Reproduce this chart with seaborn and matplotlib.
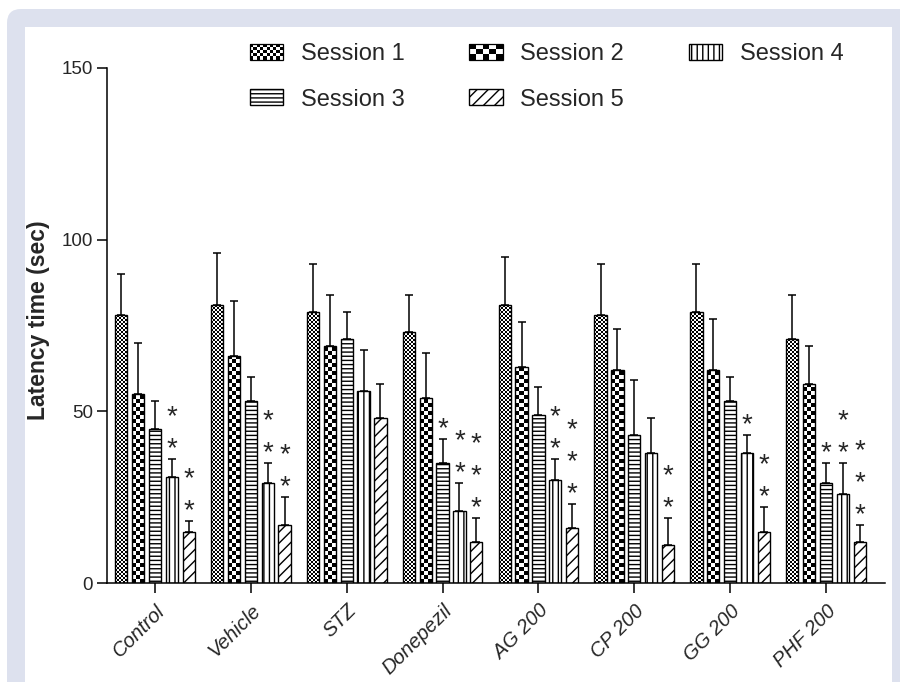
import numpy as np
import pandas as pd
import seaborn as sns
import matplotlib
matplotlib.use("Agg")
import matplotlib.pyplot as plt
from matplotlib.patches import Patch, Rectangle, FancyBboxPatch
from matplotlib.collections import PatchCollection
from matplotlib.legend_handler import HandlerBase
from matplotlib.transforms import IdentityTransform

# values
groups = ["Control", "Vehicle", "STZ", "Donepezil", "AG 200", "CP 200", "GG 200", "PHF 200"]
sessions = ["Session 1", "Session 2", "Session 3", "Session 4", "Session 5"]

s1 = [78, 81, 79, 73, 81, 78, 79, 71]
s2 = [55, 66, 69, 54, 63, 62, 62, 58]
s3 = [45, 53, 71, 35, 49, 43, 53, 29]
s4 = [31, 29, 56, 21, 30, 38, 38, 26]
s5 = [15, 17, 48, 12, 16, 11, 15, 12]

s1_err = [12, 15, 14, 11, 14, 15, 14, 13]
s2_err = [15, 16, 15, 13, 13, 12, 15, 11]
s3_err = [8, 7, 8, 7, 8, 16, 7, 6]
s4_err = [5, 6, 12, 8, 6, 10, 5, 9]
s5_err = [3, 8, 10, 7, 7, 8, 7, 5]

# number of significance stars above each bar
s1_stars = [0, 0, 0, 0, 0, 0, 0, 0]
s2_stars = [0, 0, 0, 0, 0, 0, 0, 0]
s3_stars = [0, 0, 0, 1, 0, 0, 0, 1]
s4_stars = [2, 2, 0, 2, 2, 0, 1, 2]
s5_stars = [2, 2, 0, 3, 3, 2, 2, 3]

means = [s1, s2, s3, s4, s5]
errs = [s1_err, s2_err, s3_err, s4_err, s5_err]
stars = [s1_stars, s2_stars, s3_stars, s4_stars, s5_stars]

df = pd.DataFrame({
    "group": groups * len(sessions),
    "session": np.repeat(sessions, len(groups)),
    "latency": np.concatenate(means),
})

sns.set_style("ticks")
plt.rcParams["font.family"] = ["Liberation Sans", "DejaVu Sans"]
plt.rcParams["hatch.linewidth"] = 1.0

fig = plt.figure(figsize=(9, 6.82), dpi=100, facecolor="white")

# page frame: lavender border with white panel
fig.patches.append(FancyBboxPatch((7, -30), 1000, 682 - 9 + 30,
                                  boxstyle="round,pad=0,rounding_size=14",
                                  transform=IdentityTransform(), facecolor="#dde1ee",
                                  edgecolor="none", zorder=-20))
fig.patches.append(Rectangle((25, -30), 892 - 25, 682 - 27 + 30,
                             transform=IdentityTransform(), facecolor="white",
                             edgecolor="none", zorder=-10))

ax = fig.add_axes([107 / 900, 99 / 682, 778 / 900, 515 / 682])
ax.patch.set_visible(False)

sns.barplot(data=df, x="group", y="latency", hue="session", order=groups,
            hue_order=sessions, palette=["white"] * 5, errorbar=None,
            width=0.88, gap=0.27, edgecolor="black", linewidth=1.0,
            legend=False, ax=ax)

ax.set_xlim(-0.5, 7.615)
ax.set_ylim(0, 150)
ax.set_yticks([0, 50, 100, 150])
sns.despine(ax=ax)

px_per_unit = ax.transData.transform((0, 1))[1] - ax.transData.transform((0, 0))[1]


def checker(bar, ncols, cell_px):
    x0, w = bar.get_x(), bar.get_width()
    y0, h = bar.get_y(), bar.get_height()
    cw = w / ncols
    ch = cell_px / px_per_unit
    cells = []
    for r in range(int(np.ceil(h / ch))):
        yb = y0 + r * ch
        for c in range(ncols):
            if (r + c) % 2 == 0:
                cells.append(Rectangle((x0 + c * cw, yb), cw, min(ch, y0 + h - yb)))
    coll = PatchCollection(cells, facecolor="black", edgecolor="none", zorder=bar.get_zorder())
    ax.add_collection(coll)
    coll.set_clip_path(bar)


hatches = [None, None, "----", "|||", "///"]
bar_conts = list(ax.containers)
for i, cont in enumerate(bar_conts):
    xs = [b.get_x() + b.get_width() / 2 for b in cont]
    for b in cont:
        if i == 0:
            checker(b, 6, 2)
        elif i == 1:
            checker(b, 3, 4)
        else:
            b.set_hatch(hatches[i])
    ax.errorbar(xs, means[i], yerr=[np.zeros(len(groups)), errs[i]], fmt="none",
                ecolor="black", elinewidth=1.1, capsize=3, capthick=1.1, zorder=1)
    for x, m, e, n in zip(xs, means[i], errs[i], stars[i]):
        for k in range(n):
            ax.annotate("*", xy=(x, m + e + 5.5 + 9.3 * k), xytext=(0, -11.5),
                        textcoords="offset points", ha="center", va="baseline",
                        fontsize=20)

ax.set_xlabel("")
ax.set_ylabel("Latency time (sec)", fontsize=16.5, fontweight="bold")
ax.yaxis.set_label_coords(-0.073, 0.51)
ax.tick_params(axis="both", length=7, width=1.1, labelsize=13.5, pad=3, color="black")
ax.tick_params(axis="x", labelsize=14.5, pad=6)
ax.set_xticks(range(len(groups)))
ax.set_xticklabels(groups, rotation=45, ha="right", rotation_mode="anchor", style="italic")
for sp in ax.spines.values():
    sp.set_linewidth(1.1)
    sp.set_color("black")


class CheckerHandler(HandlerBase):
    def __init__(self, ncols, nrows):
        super().__init__()
        self.ncols, self.nrows = ncols, nrows

    def create_artists(self, legend, orig_handle, xdescent, ydescent, width, height, fontsize, trans):
        cw, ch = width / self.ncols, height / self.nrows
        arts = []
        for r in range(self.nrows):
            for c in range(self.ncols):
                if (r + c) % 2 == 0:
                    arts.append(Rectangle((-xdescent + c * cw, -ydescent + r * ch), cw, ch,
                                          facecolor="black", edgecolor="none", transform=trans))
        arts.append(Rectangle((-xdescent, -ydescent), width, height, facecolor="none",
                              edgecolor="black", lw=0.9, transform=trans))
        return arts


h1 = Patch(facecolor="white", edgecolor="black", label="Session 1")
h2 = Patch(facecolor="white", edgecolor="black", label="Session 2")
h3 = Patch(facecolor="white", edgecolor="black", hatch="----", label="Session 3")
h4 = Patch(facecolor="white", edgecolor="black", hatch="|||", label="Session 4")
h5 = Patch(facecolor="white", edgecolor="black", hatch="///", label="Session 5")
handles = [h1, h3, h2, h5, h4]
fig.legend(handles=handles, labels=[h.get_label() for h in handles], ncol=3,
           loc="upper left", bbox_to_anchor=(250 / 900, 1 - 43 / 682), frameon=False,
           fontsize=17, handlelength=1.4, handleheight=0.65, handletextpad=0.75,
           columnspacing=2.75, labelspacing=1.0, borderpad=0, borderaxespad=0,
           handler_map={h1: CheckerHandler(10, 5), h2: CheckerHandler(5, 3)})

fig.savefig("out.png", dpi=100)
